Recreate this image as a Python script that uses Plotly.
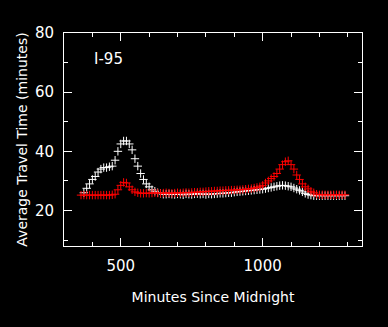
import plotly.graph_objects as go

white_x = [370, 380, 390, 400, 410, 420, 430, 440, 450, 460,
           470, 480, 490, 500, 510, 520, 530, 540, 550, 560,
           570, 580, 590, 600, 610, 620, 630, 640, 650, 660,
           670, 680, 690, 700, 710, 720, 730, 740, 750, 760,
           770, 780, 790, 800, 810, 820, 830, 840, 850, 860,
           870, 880, 890, 900, 910, 920, 930, 940, 950, 960,
           970, 980, 990, 1000, 1010, 1020, 1030, 1040, 1050, 1060,
           1070, 1080, 1090, 1100, 1110, 1120, 1130, 1140, 1150, 1160,
           1170, 1180, 1190, 1200, 1210, 1220, 1230, 1240, 1250, 1260,
           1270, 1280, 1290]
white_y = [26.0, 27.5, 29.0, 30.5, 31.5, 33.0, 34.0, 34.5, 34.5, 34.8,
           35.0, 37.0, 40.0, 42.5, 43.5, 43.5, 42.5, 40.5, 37.5, 35.0,
           32.5, 30.5, 29.0, 28.0, 27.0, 26.5, 26.0, 25.8, 25.5, 25.5,
           25.6, 25.5, 25.4, 25.6, 25.5, 25.3, 25.6, 25.5, 25.4, 25.6,
           25.7, 25.5, 25.6, 25.4, 25.6, 25.5, 25.6, 25.7, 25.8, 25.8,
           25.9, 26.0, 26.0, 26.2, 26.3, 26.4, 26.5, 26.6, 26.7, 26.8,
           26.9, 27.0, 27.1, 27.2, 27.4, 27.6, 27.8, 28.0, 28.2, 28.4,
           28.5, 28.4, 28.2, 28.0, 27.6, 27.2, 26.8, 26.3, 25.8, 25.4,
           25.2, 25.0, 25.0, 25.0, 25.0, 25.0, 25.0, 25.0, 25.0, 25.0,
           25.0, 25.0, 25.0]

red_x = [360, 370, 380, 390, 400, 410, 420, 430, 440, 450,
         460, 470, 480, 490, 500, 510, 520, 530, 540, 550,
         560, 570, 580, 590, 600, 610, 620, 630, 640, 650,
         660, 670, 680, 690, 700, 710, 720, 730, 740, 750,
         760, 770, 780, 790, 800, 810, 820, 830, 840, 850,
         860, 870, 880, 890, 900, 910, 920, 930, 940, 950,
         960, 970, 980, 990, 1000, 1010, 1020, 1030, 1040, 1050,
         1060, 1070, 1080, 1090, 1100, 1110, 1120, 1130, 1140, 1150,
         1160, 1170, 1180, 1190, 1200, 1210, 1220, 1230, 1240, 1250,
         1260, 1270, 1280, 1290]
red_y = [25.2, 25.2, 25.2, 25.2, 25.2, 25.2, 25.2, 25.2, 25.2, 25.2,
         25.2, 25.3, 25.5, 27.0, 28.5, 29.5, 29.3, 28.0, 27.0, 26.3,
         26.0, 25.8, 25.8, 25.9, 25.8, 25.9, 26.0, 25.9, 25.8, 25.9,
         26.0, 25.9, 25.8, 25.9, 26.0, 25.9, 26.0, 26.1, 26.0, 26.1,
         26.2, 26.2, 26.3, 26.3, 26.4, 26.5, 26.5, 26.6, 26.6, 26.7,
         26.7, 26.8, 26.8, 26.9, 26.9, 27.0, 27.0, 27.1, 27.2, 27.3,
         27.4, 27.6, 27.8, 28.0, 28.5, 29.3, 30.0, 30.8, 31.5, 32.5,
         34.0, 35.5, 36.5, 36.8, 35.5, 34.0, 32.0, 30.5, 29.0, 28.0,
         27.3, 26.5, 26.0, 25.5, 25.3, 25.3, 25.3, 25.3, 25.3, 25.3,
         25.3, 25.3, 25.3, 25.3]

x_range = [300, 1350]
y_range = [8, 80]
x_ticks = [500, 1000]
y_ticks = [20, 40, 60, 80]
x_minor = [400, 600, 700, 800, 900, 1100, 1200, 1300]
y_minor = [10, 30, 50, 70]
x_title = "Minutes Since Midnight"
y_title = "Average Travel Time (minutes)"
label = "I-95"

FONT = "DejaVu Sans"

fig = go.Figure()
fig.add_trace(go.Scatter(
    x=white_x, y=white_y, mode="markers",
    marker=dict(symbol="cross-thin", size=6, color="white",
                line=dict(color="white", width=1)),
    showlegend=False))
fig.add_trace(go.Scatter(
    x=red_x, y=red_y, mode="markers",
    marker=dict(symbol="cross-thin", size=6, color="red",
                line=dict(color="red", width=1)),
    showlegend=False))
# empty trace that activates the companion (top/right) axes
fig.add_trace(go.Scatter(x=[], y=[], xaxis="x2", yaxis="y2", mode="markers",
                         showlegend=False, hoverinfo="skip"))

fig.update_layout(
    xaxis=dict(range=x_range, tickmode="array", tickvals=x_ticks,
               showgrid=False, zeroline=False,
               showline=True, linecolor="white", linewidth=1, mirror="ticks",
               ticks="inside", ticklen=8, tickcolor="#ffffff", tickwidth=1,
               minor=dict(ticks="inside", ticklen=4, tickcolor="#ffffff",
                          tickwidth=1, tickvals=x_minor),
               tickfont=dict(family=FONT, size=15, color="white"),
               ticklabelstandoff=6,
               title=dict(text=x_title, font=dict(family=FONT, size=14, color="white"),
                          standoff=18)),
    yaxis=dict(range=y_range, tickmode="array", tickvals=y_ticks,
               showgrid=False, zeroline=False,
               showline=True, linecolor="white", linewidth=1, mirror="ticks",
               ticks="inside", ticklen=8, tickcolor="#ffffff", tickwidth=1,
               minor=dict(ticks="inside", ticklen=4, tickcolor="#ffffff",
                          tickwidth=1, tickvals=y_minor),
               tickfont=dict(family=FONT, size=15, color="white"),
               ticklabelstandoff=6,
               title=dict(text=y_title, font=dict(family=FONT, size=14, color="white"),
                          standoff=4)),
    # companion axes to mirror the minor ticks on top and right
    xaxis2=dict(overlaying="x", side="top", range=x_range, tickmode="array",
                tickvals=x_minor, showticklabels=False, ticks="inside", ticklen=4,
                tickcolor="#ffffff", tickwidth=1, showgrid=False, zeroline=False,
                showline=False),
    yaxis2=dict(overlaying="y", side="right", range=y_range, tickmode="array",
                tickvals=y_minor, showticklabels=False, ticks="inside", ticklen=4,
                tickcolor="#ffffff", tickwidth=1, showgrid=False, zeroline=False,
                showline=False),
)

fig.add_annotation(text=label, xref="paper", yref="paper", x=0.095, y=0.88,
                   xanchor="left", yanchor="middle", showarrow=False,
                   font=dict(family=FONT, size=15, color="white"))

fig.update_layout(
    width=388, height=327,
    margin=dict(l=64, r=26, t=33, b=81),
    paper_bgcolor="black", plot_bgcolor="black",
)

fig.write_html("out.html", config={"displayModeBar": False},
               post_script="document.body.style.margin='0px';document.body.style.background='black';")
